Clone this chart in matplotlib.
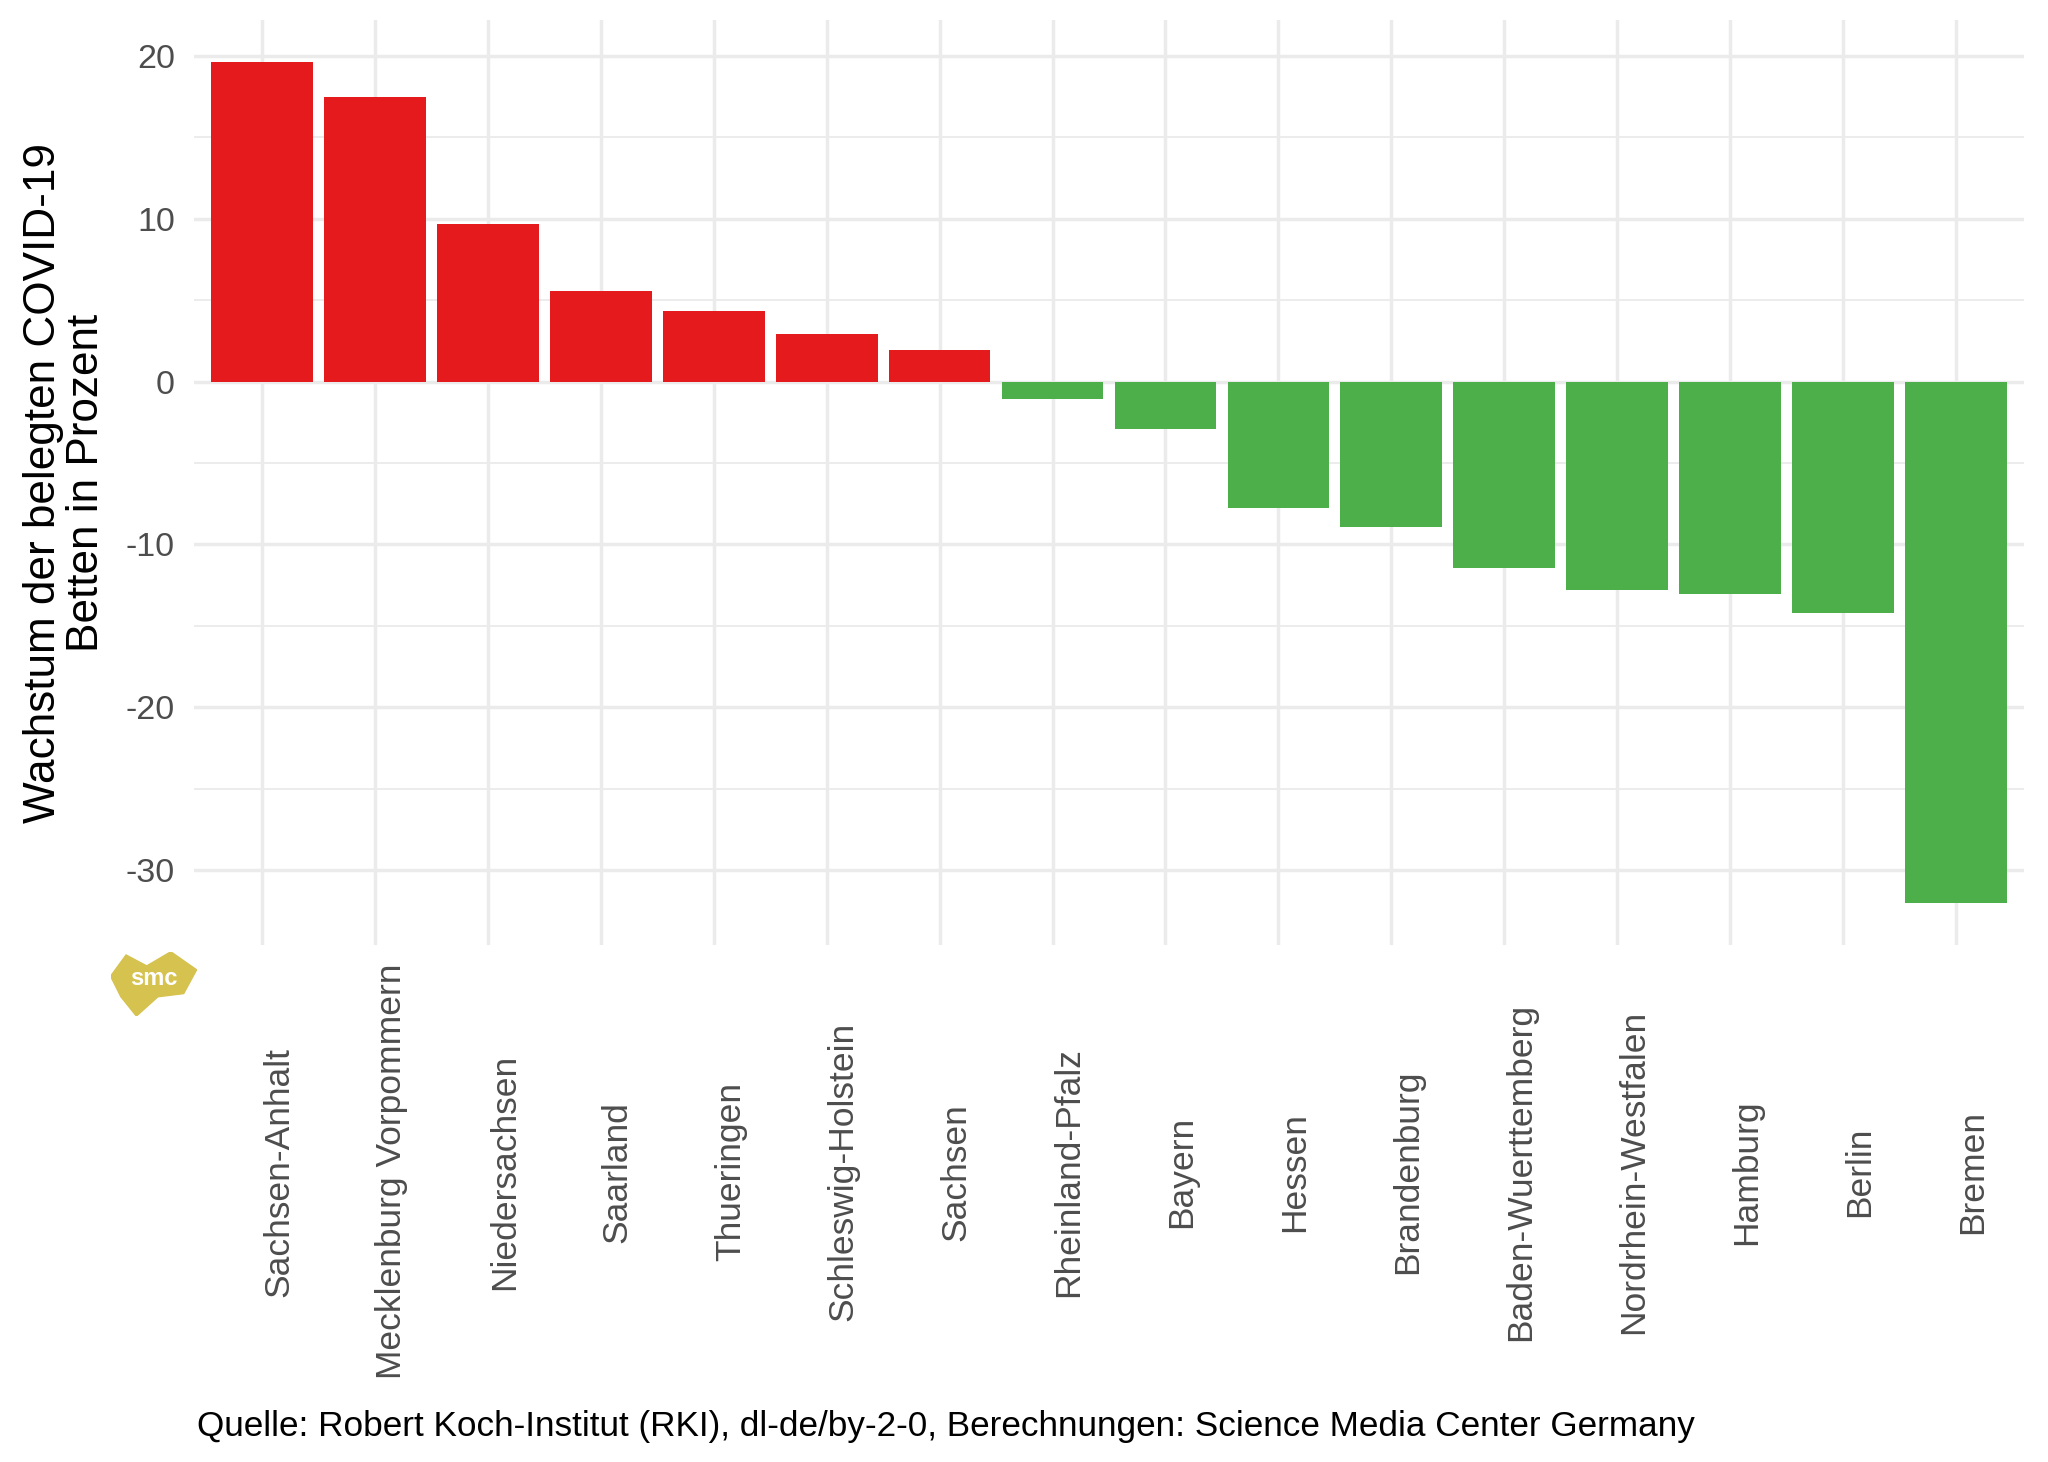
import numpy as np
import matplotlib
matplotlib.use("Agg")
import matplotlib.pyplot as plt
from matplotlib import font_manager
from matplotlib.patches import Polygon

# Bundesland order as in the chart, growth of occupied COVID-19 ICU beds (%)
states = [
    "Sachsen-Anhalt", "Mecklenburg Vorpommern", "Niedersachsen", "Saarland",
    "Thueringen", "Schleswig-Holstein", "Sachsen", "Rheinland-Pfalz", "Bayern",
    "Hessen", "Brandenburg", "Baden-Wuerttemberg", "Nordrhein-Westfalen",
    "Hamburg", "Berlin", "Bremen",
]
growth = [19.6, 17.45, 9.65, 5.55, 4.35, 2.9, 1.93, -1.05, -2.9,
          -7.75, -8.9, -11.43, -12.8, -13.05, -14.18, -32.0]

yticks = [20, 10, 0, -10, -20, -30]
yminor = [15, 5, -5, -15, -25]

installed = {f.name for f in font_manager.fontManager.ttflist}
base_font = "Liberation Sans" if "Liberation Sans" in installed else "DejaVu Sans"
narrow_font = "Liberation Sans Narrow" if "Liberation Sans Narrow" in installed else base_font

plt.rcParams.update({
    "font.family": [base_font, "DejaVu Sans"],
})

RED = "#E41A1C"
GREEN = "#4DAF4A"
GRID = "#EBEBEB"
TICK = "#4D4D4D"

fig = plt.figure(figsize=(20.48, 14.62), dpi=100)
ax = fig.add_axes([0.0949, 0.3534, 0.8932, 0.6331])

x = np.arange(len(states))
colours = [RED if v > 0 else GREEN for v in growth]
ax.bar(x, growth, width=0.9, color=colours, zorder=2)

ax.set_xlim(-0.6, len(states) - 0.4)
ax.set_ylim(-34.6, 22.2)

ax.set_yticks(yticks)
ax.set_yticklabels([str(t) for t in yticks])
ax.set_yticks(yminor, minor=True)
ax.set_xticks(x)
ax.set_xticklabels([])

for s in ax.spines.values():
    s.set_visible(False)
ax.tick_params(axis="both", which="both", length=0)
ax.tick_params(axis="y", labelsize=24.5, labelcolor=TICK, pad=14)
ax.grid(True, which="major", color=GRID, lw=2.5, zorder=0)
ax.grid(True, which="minor", axis="y", color=GRID, lw=1.3, zorder=0)
ax.set_axisbelow(True)

# rotated state labels, centred vertically on a common line
lab_tf = matplotlib.transforms.blended_transform_factory(ax.transData, fig.transFigure)
for xi, name in zip(x, states):
    ax.text(xi, 0.1985, name, rotation=90, ha="left", va="center",
            fontsize=25.5, color=TICK, transform=lab_tf)

fig.text(0.0318, ax.get_position().y0 + ax.get_position().height / 2,
         "Wachstum der belegten COVID-19\nBetten in Prozent",
         rotation=90, ha="center", va="center", multialignment="center",
         fontsize=31.8, color="black", linespacing=1.08)

caption_size = 24.5 if narrow_font != base_font else 25.3
fig.text(0.0962, 0.0246,
         "Quelle: Robert Koch-Institut (RKI), dl-de/by-2-0, Berechnungen: Science Media Center Germany",
         ha="left", va="center", fontsize=caption_size, color="black",
         family=[narrow_font, "DejaVu Sans"])

# rough smc logo
lax = fig.add_axes([0.054, 0.305, 0.042, 0.044])
lax.set_xlim(0, 1)
lax.set_ylim(0, 1)
lax.axis("off")
gold = "#D6C24E"
lax.add_patch(Polygon([[0.0, 0.62], [0.18, 0.95], [0.42, 0.78], [0.7, 1.0],
                       [1.0, 0.72], [0.85, 0.35], [0.55, 0.3], [0.3, 0.0],
                       [0.12, 0.3]], closed=True, color=gold))
lax.text(0.5, 0.58, "smc", ha="center", va="center", fontsize=17,
         color="white", fontweight="bold")

fig.savefig("out.png", dpi=100)
